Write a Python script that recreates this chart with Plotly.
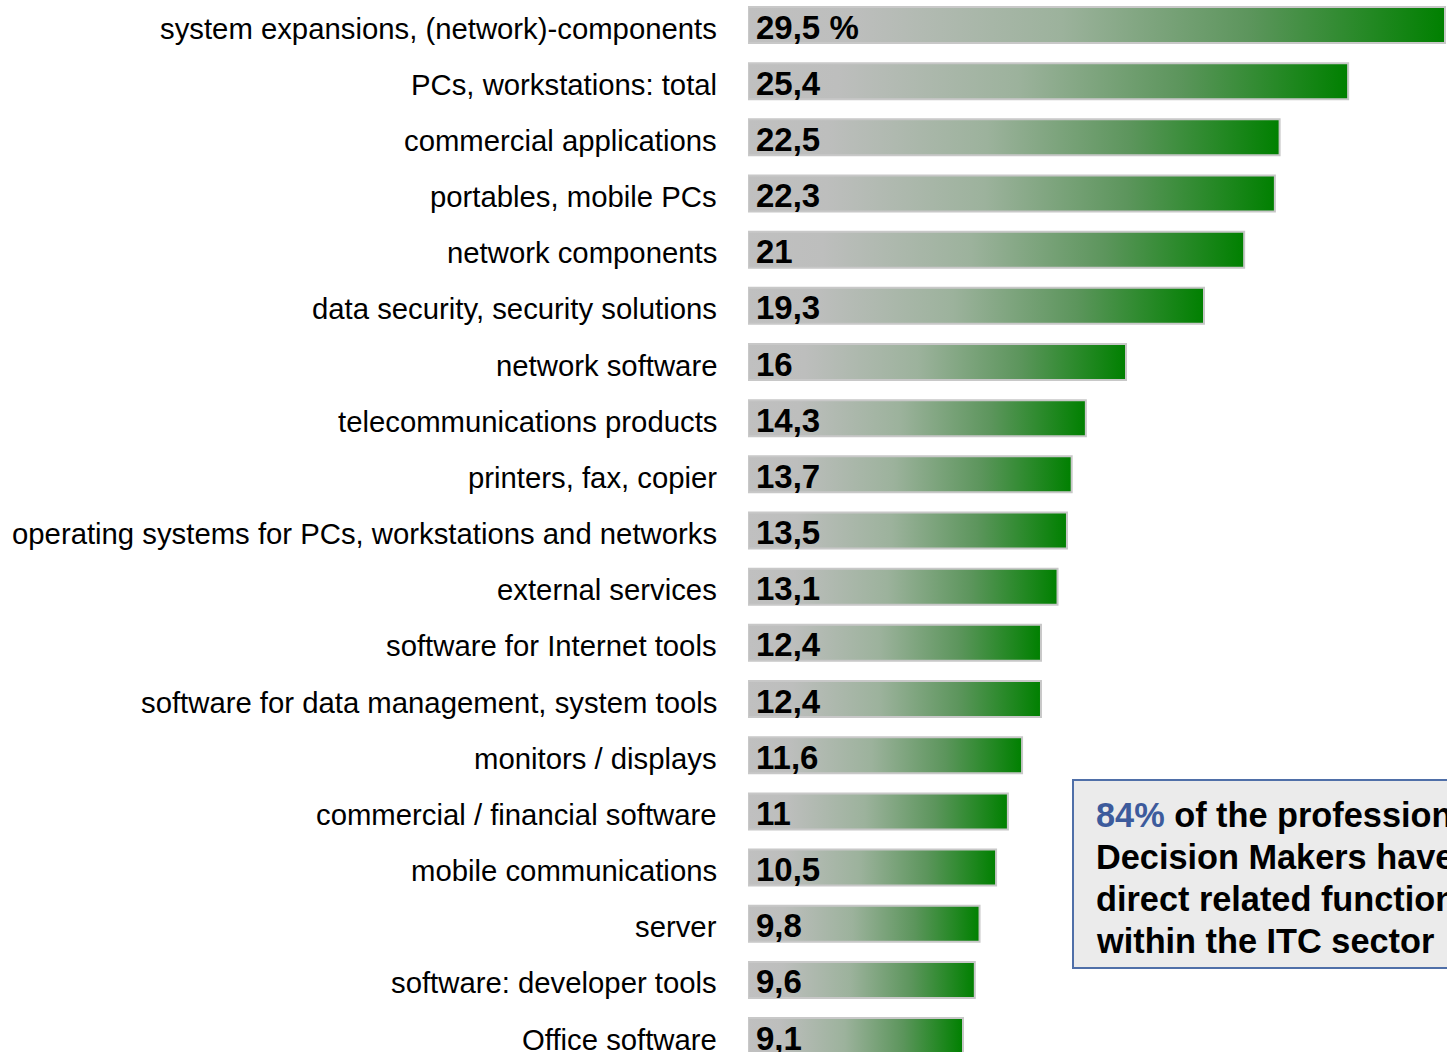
import plotly.graph_objects as go

categories = [
    "system expansions, (network)-components",
    "PCs, workstations: total",
    "commercial applications",
    "portables, mobile PCs",
    "network components",
    "data security, security solutions",
    "network software",
    "telecommunications products",
    "printers, fax, copier",
    "operating systems for PCs, workstations and networks",
    "external services",
    "software for Internet tools",
    "software for data management, system tools",
    "monitors / displays",
    "commercial / financial software",
    "mobile communications",
    "server",
    "software: developer tools",
    "Office software",
]
values = [29.5, 25.4, 22.5, 22.3, 21, 19.3, 16, 14.3, 13.7, 13.5, 13.1,
          12.4, 12.4, 11.6, 11, 10.5, 9.8, 9.6, 9.1]
value_labels = [f"{v:g}".replace(".", ",") for v in values]
value_labels[0] += " %"

box_lines = ["<span style='color:#3d5b9c'>84%</span> of the professional",
             "Decision Makers have",
             "direct related functions",
             "within the ITC sector"]

W, H = 1447, 1052
L = 748
row0, pitch = 25.0, 56.17
half = 18.0 / pitch
px_per_unit = 697 / 29.5
xmax = (W - L) / px_per_unit
FONT = "Liberation Sans, Arial"

colorscale = [[0, "#c0c0c0"], [0.15, "#bdbebd"], [0.45, "#9cb29c"],
              [0.72, "#5c955c"], [1, "#008000"]]

fig = go.Figure()
for i, v in enumerate(values):
    fig.add_trace(go.Scatter(
        x=[0, v, v, 0, 0],
        y=[i - half, i - half, i + half, i + half, i - half],
        mode="lines", fill="toself",
        fillgradient=dict(type="horizontal", colorscale=colorscale),
        line=dict(color="#c8c8c8", width=2),
        hoverinfo="skip", showlegend=False,
    ))
    fig.add_annotation(x=0, y=i, xref="x", yref="y", text=f"<b>{value_labels[i]}</b>",
                       showarrow=False, xanchor="left", yanchor="middle", xshift=6, yshift=-2,
                       font=dict(family=FONT, size=33, color="#000000"))
    fig.add_annotation(x=0, y=i, xref="x", yref="y", text=categories[i],
                       showarrow=False, xanchor="right", yanchor="middle", xshift=-29, yshift=-3,
                       font=dict(family=FONT, size=29.3, color="#000000"))

# info box
fig.add_shape(type="rect", xref="paper", yref="paper",
              x0=(1073 - L) / (W - L), x1=1.3,
              y0=1 - 968 / H, y1=1 - 780 / H,
              fillcolor="#ebebeb", line=dict(color="#4f6fa8", width=2), layer="above")
for k, line in enumerate(box_lines):
    fig.add_annotation(xref="paper", yref="paper",
                       x=(1094 - L) / (W - L), y=1 - (815 + 42 * k) / H,
                       xanchor="left", yanchor="middle", align="left", showarrow=False,
                       text="<b>" + line + "</b>",
                       font=dict(family=FONT, size=34.3, color="#000000"))

y_top = -row0 / pitch
y_bot = (H - row0) / pitch
fig.update_yaxes(range=[y_bot, y_top], visible=False, showgrid=False, zeroline=False)
fig.update_xaxes(range=[0, xmax], visible=False, showgrid=False, zeroline=False)
fig.update_layout(width=W, height=H, margin=dict(l=L, r=0, t=0, b=0),
                  plot_bgcolor="#ffffff", paper_bgcolor="#ffffff", showlegend=False)
fig.write_html("out.html")
